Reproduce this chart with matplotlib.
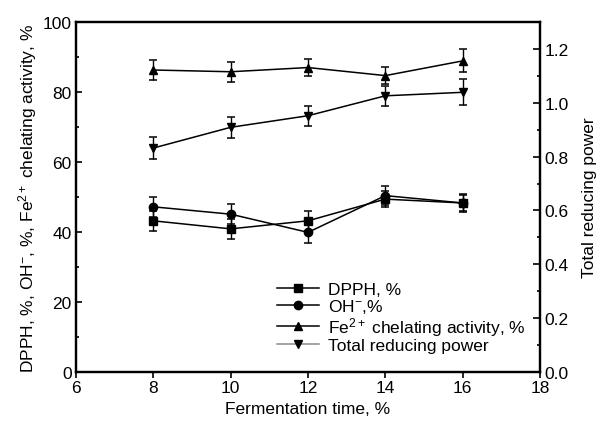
import matplotlib
matplotlib.use("Agg")
import matplotlib.pyplot as plt
from matplotlib.lines import Line2D

plt.rcParams['font.family'] = ['Liberation Sans', 'DejaVu Sans']
plt.rcParams['mathtext.fontset'] = 'custom'
plt.rcParams['mathtext.rm'] = 'Liberation Sans'
plt.rcParams['mathtext.it'] = 'Liberation Sans:italic'
plt.rcParams['mathtext.bf'] = 'Liberation Sans:bold'

time = [8, 10, 12, 14, 16]
dpph = [43.2, 40.9, 43.2, 49.4, 48.3]
dpph_err = [2.8, 2.8, 2.8, 2.2, 2.2]
oh = [47.2, 45.1, 39.9, 50.4, 48.3]
oh_err = [2.9, 2.9, 2.9, 2.8, 2.5]
fe = [86.3, 85.8, 87.0, 84.7, 88.9]
fe_err = [3.0, 2.9, 2.5, 2.5, 3.3]
trp = [0.832, 0.909, 0.952, 1.026, 1.039]
trp_err = [0.040, 0.038, 0.038, 0.036, 0.048]

xticks = [6, 8, 10, 12, 14, 16, 18]
yticks_left = [0, 20, 40, 60, 80, 100]
yticks_right = [0.0, 0.2, 0.4, 0.6, 0.8, 1.0, 1.2]

labels = ['DPPH, %', 'OH$^{-}$,%', 'Fe$^{2+}$ chelating activity, %', 'Total reducing power']
markers = ['s', 'o', '^', 'v']
legend_colors = ['black', 'black', 'black', '#8a8a8a']

fig = plt.figure(figsize=(6.01, 4.27), dpi=100)
ax = fig.add_axes([0.1265, 0.1265, 0.772, 0.8195])
ax2 = ax.twinx()

fs = 12.5
ekw = dict(color='black', lw=1.1, capsize=3, capthick=1.1, elinewidth=1.0, ms=6)
ax.errorbar(time, dpph, yerr=dpph_err, marker=markers[0], **ekw)
ax.errorbar(time, oh, yerr=oh_err, marker=markers[1], **ekw)
ax.errorbar(time, fe, yerr=fe_err, marker=markers[2], **ekw)
ax2.errorbar(time, trp, yerr=trp_err, marker=markers[3], **ekw)

ax.set_xlim(6, 18)
ax.set_ylim(0, 100)
ax2.set_ylim(0, 1.3)
ax.set_xticks(xticks)
ax.set_yticks(yticks_left)
ax.set_yticks(range(10, 100, 20), minor=True)
ax2.set_yticks(yticks_right)
ax2.set_yticks([0.1, 0.3, 0.5, 0.7, 0.9, 1.1], minor=True)
ax2.set_yticklabels(['%.1f' % v for v in yticks_right])

for a in (ax, ax2):
    for s in a.spines.values():
        s.set_linewidth(1.6)
ax.tick_params(axis='x', direction='out', length=4, width=1.2, labelsize=fs, pad=2)
ax.tick_params(axis='y', which='major', direction='in', length=4, width=1.2, labelsize=fs, pad=3)
ax.tick_params(axis='y', which='minor', direction='in', length=2, width=1.2)
ax2.tick_params(axis='y', which='major', direction='in', length=5, width=1.2, labelsize=fs, pad=3)
ax2.tick_params(axis='y', which='minor', direction='in', length=2.5, width=1.2)

ax.set_xlabel('Fermentation time, %', fontsize=fs, labelpad=4)
ax.set_ylabel('DPPH, %, OH$^{-}$, %, Fe$^{2+}$ chelating activity, %', fontsize=fs, labelpad=3)
ax2.set_ylabel('Total reducing power', fontsize=fs, labelpad=10)

handles = [Line2D([], [], color=c, lw=1.1, marker=m, ms=6, mfc='black', mec='black')
           for m, c in zip(markers, legend_colors)]
ax.legend(handles, labels, loc='upper left', bbox_to_anchor=(0.447, 0.358),
          bbox_transform=fig.transFigure, frameon=False, fontsize=fs,
          handlelength=2.4, handletextpad=0.5, labelspacing=0.0, borderpad=0)

fig.savefig('out.png', dpi=100)
